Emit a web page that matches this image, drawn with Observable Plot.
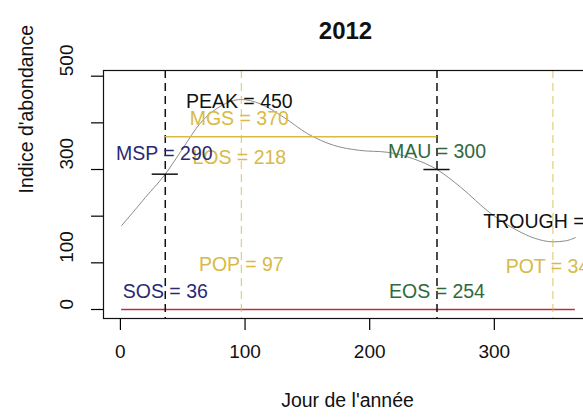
<!DOCTYPE html>
<html><head><meta charset="utf-8">
<script src="https://cdn.jsdelivr.net/npm/d3@7"></script>
<script src="https://cdn.jsdelivr.net/npm/@observablehq/plot@0.6"></script>
<style>
html,body{margin:0;padding:0;background:#fff;overflow:hidden;}
svg{max-width:none !important;}
</style></head><body><div id="chart"></div>
<script>
const title = "2012";
const xLabel = "Jour de l'année";
const yLabel = "Indice d'abondance";
const days = [1, 10, 20, 36, 50, 64, 80, 97, 112, 131, 150, 171, 192, 214, 235, 254, 273, 297, 318, 332, 347, 357, 365];
const abundance = [180, 208, 240, 290, 345, 399, 435, 450, 441, 412, 377, 352, 341, 337, 323, 300, 262, 206, 170, 153, 145, 147, 154];
const xTicks = [0, 100, 200, 300];
const yTicks = [0, 100, 200, 300, 400, 500];
const yTickLabels = ["0", "100", "", "300", "", "500"];
const SOS = 36, EOS = 254, POP = 97, POT = 347;
const PEAK = 450, TROUGH = 145, MSP = 290, MAU = 300, MGS = 370, LOS = 218;
const yearStart = 1, yearEnd = 365;

const curveData = days.map((d, i) => ({day: d, value: abundance[i]}));

const font = "'Liberation Sans', Arial, sans-serif";
const gold = "#d8ba45";
const navy = "#2a2a72";
const green = "#2f6a3c";
const red = "#b8303f";
const fs = 19.5;

function label(x, y, t, fill, dy, dx = 0) {
  return Plot.text([{x, y, t}], {x: "x", y: "y", text: "t", fill, dy, dx, fontSize: fs, textAnchor: "middle"});
}

const chart = Plot.plot({
  width: 620,
  height: 419,
  marginLeft: 103,
  marginRight: 27,
  marginTop: 70,
  marginBottom: 101,
  style: {fontFamily: font, background: "white", maxWidth: "none", overflow: "visible"},
  x: {domain: [-13.56, 379.56]},
  y: {domain: [-19.3, 512.2]},
  marks: [
    Plot.ruleY([0], {x1: yearStart, x2: yearEnd, stroke: red, strokeWidth: 1.5}),
    Plot.line(curveData, {x: "day", y: "value", stroke: "#8c8c8c", strokeWidth: 1, curve: "monotone-x"}),
    Plot.ruleX([SOS, EOS], {stroke: "#111", strokeWidth: 1.5, strokeDasharray: "8,5"}),
    Plot.ruleX([POP, POT], {stroke: gold, strokeWidth: 1, strokeDasharray: "8,5", strokeOpacity: 0.85}),
    Plot.ruleY([MGS], {x1: SOS, x2: EOS, stroke: gold, strokeWidth: 1.5}),
    Plot.ruleY([{x: SOS, y: MSP}, {x: EOS, y: MAU}], {y: "y", x1: d => d.x - 10.5, x2: d => d.x + 10.5, stroke: "#111", strokeWidth: 1.5}),
    Plot.frame({stroke: "#111", strokeWidth: 1.2}),
    Plot.axisX({ticks: xTicks, tickSize: 12, tickFormat: () => "", label: null, strokeWidth: 1.2}),
    Plot.axisY({ticks: yTicks, tickSize: 12, tickFormat: () => "", label: null, strokeWidth: 1.2}),
    Plot.text(xTicks, {x: d => d, frameAnchor: "bottom", dy: 39.5, fontSize: 19, fill: "#111"}),
    Plot.text(yTicks, {y: d => d, text: (d, i) => yTickLabels[i], frameAnchor: "left", dx: -36.5, rotate: -90, fontSize: 19, fill: "#111"}),
    Plot.text([title], {frameAnchor: "top", dy: -48.8, dx: -3, fontSize: 24, fontWeight: "bold", fill: "#111"}),
    Plot.text([xLabel], {frameAnchor: "bottom", dy: 88, dx: -1, fontSize: 19.5, fill: "#111"}),
    Plot.text([yLabel], {frameAnchor: "left", dx: -76.3, dy: -1, rotate: -90, fontSize: 19.5, fill: "#111"}),
    label(POP, PEAK, `PEAK = ${PEAK}`, "#111", 2, -2),
    label(POP, MGS, `MGS = ${MGS}`, gold, -18, -2),
    label(POP, MGS, `LOS = ${LOS}`, gold, 21, -2),
    label(SOS, MSP, `MSP = ${MSP}`, navy, -20, -1),
    label(SOS, 0, `SOS = ${SOS}`, navy, -18),
    label(EOS, MAU, `MAU = ${MAU}`, green, -18),
    label(EOS, 0, `EOS = ${EOS}`, green, -18),
    label(POP, POP, `POP = ${POP}`, gold, 1),
    label(POT, POP, `POT = ${POT}`, gold, 3),
    label(POT, TROUGH, `TROUGH = ${TROUGH}`, "#111", -20)
  ]
});
document.getElementById("chart").appendChild(chart);
</script></body></html>
